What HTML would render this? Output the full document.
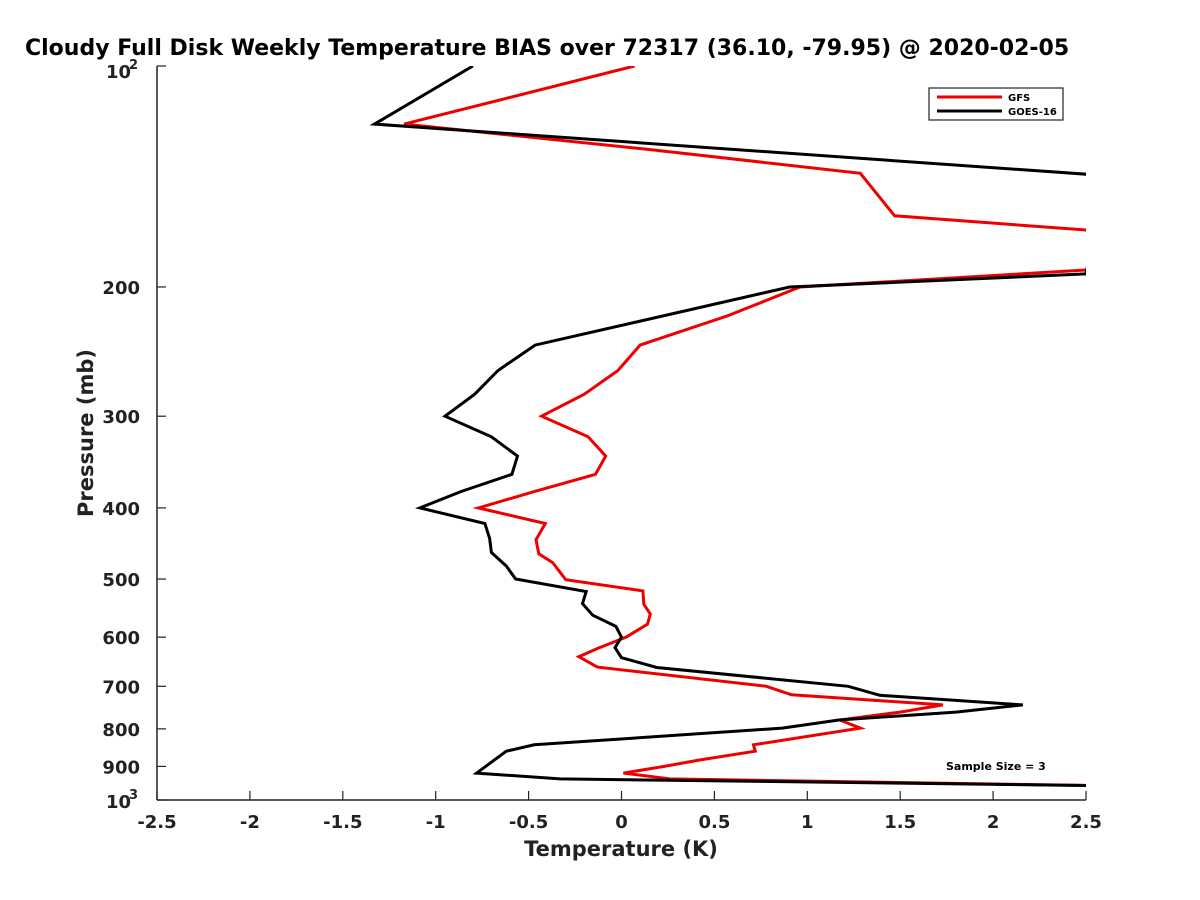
<!DOCTYPE html>
<html><head><meta charset="utf-8"><style>
body{margin:0;background:#fff;}
svg{display:block;font-family:"DejaVu Sans","Liberation Sans",sans-serif;}
</style></head><body>
<svg id="chart" width="1200" height="900" viewBox="0 0 1200 900">
<rect width="1200" height="900" fill="#fff"/>
<defs><clipPath id="plotclip"><rect x="157" y="66" width="929" height="734"/></clipPath></defs>
<text x="25" y="55" font-size="22" font-weight="bold">Cloudy Full Disk Weekly Temperature BIAS over 72317 (36.10, -79.95) @ 2020-02-05</text>
<g id="axes"></g>
<g id="series" clip-path="url(#plotclip)"></g>
<g>
<rect x="929" y="88" width="134" height="32" fill="#fff" stroke="#222" stroke-width="1.2"/>
<line x1="937" y1="97" x2="1002" y2="97" stroke="#e00" stroke-width="3"/>
<text x="1008" y="101" font-size="10" font-weight="bold">GFS</text>
<line x1="937" y1="111" x2="1002" y2="111" stroke="#000" stroke-width="3"/>
<text x="1008" y="115" font-size="10" font-weight="bold">GOES-16</text>
</g>
<text x="946" y="770" font-size="11" font-weight="bold">Sample Size = 3</text>
<text x="621" y="856" font-size="21" font-weight="bold" text-anchor="middle" fill="#222">Temperature (K)</text>
<text x="0" y="0" font-size="21" font-weight="bold" text-anchor="middle" fill="#222" transform="translate(93,433) rotate(-90)">Pressure (mb)</text>
</svg>
<script>
const xTicks=[-2.5,-2,-1.5,-1,-0.5,0,0.5,1,1.5,2,2.5];
const xTickLabels=["-2.5","-2","-1.5","-1","-0.5","0","0.5","1","1.5","2","2.5"];
const yTicks=[200,300,400,500,600,700,800,900];
const goesT=[-0.80,-1.33,2.6,2.5,0.905,-0.465,-0.665,-0.79,-0.95,-0.70,-0.56,-0.59,-0.865,-1.085,-0.735,-0.71,-0.70,-0.62,-0.57,-0.19,-0.21,-0.155,-0.03,0.0,-0.035,0.0,0.19,1.22,1.39,2.16,1.80,1.17,0.865,-0.47,-0.62,-0.78,-0.33,2.6];
const goesP=[100,120,141,192,200,240,260,280,300,320,340,360,380,400,420,440,460,480,500,520,540,560,580,600,620,640,660,700,720,742,759,778,798,841,858,919,936,956];
const gfsT=[0.07,-1.17,0.155,1.285,1.47,2.6,2.6,0.96,0.57,0.1,-0.02,-0.2,-0.43,-0.18,-0.085,-0.14,-0.47,-0.77,-0.41,-0.46,-0.445,-0.37,-0.30,0.115,0.12,0.155,0.14,0.025,-0.125,-0.23,-0.13,0.78,0.915,1.73,1.50,1.175,1.285,0.71,0.72,0.42,0.23,0.01,0.26,2.6];
const gfsP=[100,120,130,140,160,168,189,200,219,240,260,280,300,320,340,360,380,400,420,442,462,475,501,519,541,558,576,600,621,638,659,700,719,742,759,778,798,841,858,882,900,919,936,956];
const X0=157,X1=1086,Y0=66,Y1=800;
function xs(t){return X0+(t+2.5)/5*(X1-X0);}
function ys(p){return Y0+Math.log10(p/100)*(Y1-Y0);}
const NS="http://www.w3.org/2000/svg";
const axes=document.getElementById('axes'),series=document.getElementById('series');
function mk(tag,attrs,parent){const e=document.createElementNS(NS,tag);for(const k in attrs)e.setAttribute(k,attrs[k]);parent.appendChild(e);return e;}
let ax=mk('line',{x1:X0,y1:Y0,x2:X0,y2:Y1,stroke:'#222','stroke-width':1.5},axes);


let bx=mk('line',{x1:X0,y1:Y1,x2:X1,y2:Y1,stroke:'#222','stroke-width':1.5},axes);


xTicks.forEach((t,i)=>{
  const x=xs(t);
  const tk=mk('line',{x1:x,y1:Y1,x2:x,y2:Y1-9,stroke:'#222','stroke-width':1.2},axes);
  
  
  const tx=mk('text',{x:x,y:828,'font-size':18,'font-weight':'bold','text-anchor':'middle',fill:'#222'},axes);
  tx.textContent=xTickLabels[i];
  
  
});
[100,1000].concat(yTicks).forEach(p=>{
  const y=ys(p);
  const tk=mk('line',{x1:X0,y1:y,x2:X0+9,y2:y,stroke:'#222','stroke-width':1.2},axes);
  
  
});
yTicks.forEach(p=>{
  const tx=mk('text',{x:140,y:ys(p)+7,'font-size':18,'font-weight':'bold','text-anchor':'end',fill:'#222'},axes);
  tx.textContent=String(p);
  
  
});
[[100,'2'],[1000,'3']].forEach(([p,e])=>{
  const tx=mk('text',{x:106,y:ys(p)+(p==100?12:8),'font-size':18,'font-weight':'bold',fill:'#222'},axes);
  tx.textContent='10';
  
  
  const sp=mk('text',{x:129,y:ys(p)+(p==100?3:-1),'font-size':13,'font-weight':'bold',fill:'#222'},axes);
  sp.textContent=e;
  
  
});
function drawLine(T,P,color,name){
  const pts=T.map((t,i)=>xs(t).toFixed(1)+','+ys(P[i]).toFixed(1)).join(' ');
  const pl=mk('polyline',{points:pts,fill:'none',stroke:color,'stroke-width':3,'stroke-linejoin':'miter'},series);
  
  
}
drawLine(gfsT,gfsP,'#e00','gfs-line');
drawLine(goesT,goesP,'#000','goes16-line');
</script>
</body></html>
